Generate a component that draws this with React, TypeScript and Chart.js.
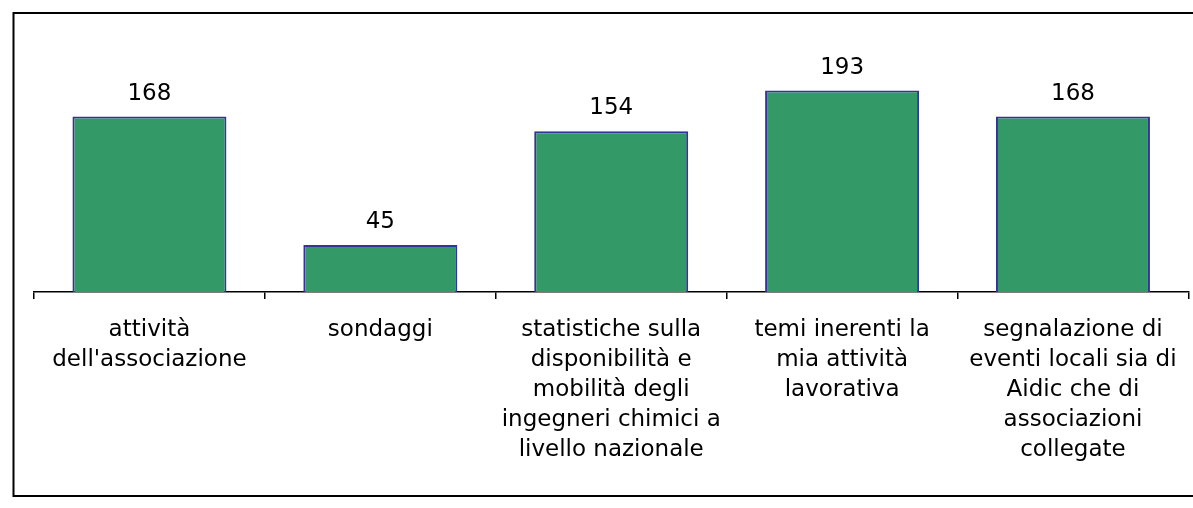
import React, { useEffect, useRef } from "react";
import { Chart, registerables } from "chart.js";

Chart.register(...registerables);

const categories: string[][] = [
  ["attività", "dell'associazione"],
  ["sondaggi"],
  ["statistiche sulla", "disponibilità e", "mobilità degli", "ingegneri chimici a", "livello nazionale"],
  ["temi inerenti la", "mia attività", "lavorativa"],
  ["segnalazione di", "eventi locali sia di", "Aidic che di", "associazioni", "collegate"],
];
const values: number[] = [168, 45, 154, 193, 168];

const FONT = "'DejaVu Sans', Verdana, sans-serif";
const FONT_SIZE = 23;

const framePlugin = {
  id: "frame",
  beforeDraw(chart: any) {
    const ctx = chart.ctx;
    ctx.save();
    ctx.fillStyle = "#ffffff";
    ctx.fillRect(0, 0, chart.width, chart.height);
    ctx.strokeStyle = "#000000";
    ctx.lineWidth = 2;
    ctx.strokeRect(13.5, 13, 1300, 483);
    ctx.restore();
  },
};

const valueLabelPlugin = {
  id: "valueLabels",
  afterDatasetsDraw(chart: any) {
    const ctx = chart.ctx;
    const meta = chart.getDatasetMeta(0);
    ctx.save();
    ctx.font = `${FONT_SIZE}px ${FONT}`;
    ctx.fillStyle = "#000000";
    ctx.textAlign = "center";
    ctx.textBaseline = "alphabetic";
    meta.data.forEach((bar: any, i: number) => {
      ctx.fillText(String(values[i]), bar.x, bar.y - 17);
    });
    ctx.restore();
  },
};

export default function App() {
  const ref = useRef<HTMLCanvasElement>(null);
  useEffect(() => {
    if (!ref.current) return;
    const chart = new Chart(ref.current, {
      type: "bar",
      data: {
        labels: categories,
        datasets: [
          {
            data: values,
            backgroundColor: "#339966",
            borderColor: "#333399",
            borderWidth: 2,
            barPercentage: 0.667,
            categoryPercentage: 1,
          },
        ],
      },
      options: {
        animation: false,
        responsive: false,
        maintainAspectRatio: false,
        layout: { padding: { left: 34, right: 4, top: 31, bottom: 27 } },
        plugins: { legend: { display: false }, tooltip: { enabled: false } },
        scales: {
          x: {
            grid: {
              display: true,
              drawOnChartArea: false,
              drawTicks: true,
              tickLength: 7,
              color: "#000000",
              lineWidth: 1.5,
            },
            border: { display: true, color: "#000000", width: 1.5 },
            ticks: {
              color: "#000000",
              padding: 16,
              maxRotation: 0,
              autoSkip: false,
              font: { family: FONT, size: FONT_SIZE, lineHeight: 30 / FONT_SIZE },
            },
          },
          y: {
            display: false,
            min: 0,
            max: 250,
          },
        },
      },
      plugins: [framePlugin, valueLabelPlugin],
    });
    return () => chart.destroy();
  }, []);
  return (
    <div style={{ position: "absolute", left: 0, top: 0, width: 1193, height: 508 }}>
      <canvas ref={ref} width={1193} height={508} style={{ width: 1193, height: 508 }} />
    </div>
  );
}
